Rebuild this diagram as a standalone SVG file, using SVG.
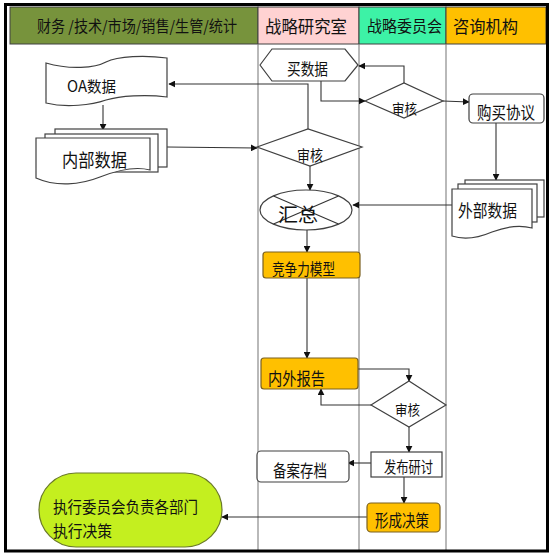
<svg xmlns="http://www.w3.org/2000/svg" width="551" height="559" viewBox="0 0 551 559">
<style>
text{font-family:"Noto Sans CJK SC","Liberation Sans",sans-serif;fill:#111}
.shp{fill:#fff;stroke:#404040;stroke-width:1.2}
.org{fill:#FFC000;stroke:#7a6020;stroke-width:1.2}
.cn{fill:none;stroke:#333;stroke-width:1.1}
.lane{stroke:#8a8a8a;stroke-width:1.2}
.hd{stroke:#404040;stroke-width:1}
</style>
<defs>
<marker id="ah" viewBox="0 0 10 10" refX="9" refY="5" markerWidth="7" markerHeight="7" markerUnits="userSpaceOnUse" orient="auto">
<path d="M0,0 L10,5 L0,10 Z" fill="#111"/>
</marker>
</defs>
<rect x="0" y="0" width="551" height="559" fill="#fff"/>
<g id="header">
<rect class="hd" x="10" y="7" width="248" height="37" fill="#77933C"/>
<rect class="hd" x="258" y="7" width="101" height="37" fill="#FFD2D2"/>
<rect class="hd" x="359" y="7" width="87" height="37" fill="#3DF2A6"/>
<rect class="hd" x="446" y="7" width="100" height="37" fill="#FFC000"/>
<text x="37" y="32" font-size="15.5" textLength="200" lengthAdjust="spacingAndGlyphs">财务 /技术/市场/销售/生管/统计</text>
<text x="265" y="33" font-size="17" textLength="82" lengthAdjust="spacingAndGlyphs">战略研究室</text>
<text x="367" y="32" font-size="15.5" textLength="75" lengthAdjust="spacingAndGlyphs">战略委员会</text>
<text x="453" y="33" font-size="17" textLength="65" lengthAdjust="spacingAndGlyphs">咨询机构</text>
</g>
<g id="lanes">
<line class="lane" x1="258" y1="44" x2="258" y2="550"/>
<line class="lane" x1="359" y1="44" x2="359" y2="550"/>
<line class="lane" x1="446" y1="44" x2="446" y2="550"/>
</g>
<rect x="5.5" y="4.5" width="542" height="546.5" fill="none" stroke="#000" stroke-width="3"/>
<g id="connectors">
<path class="cn" d="M308,129 V84 H169" marker-end="url(#ah)"/>
<path class="cn" d="M103,105 V130" marker-end="url(#ah)"/>
<path class="cn" d="M167,147 L257,148" marker-end="url(#ah)"/>
<path class="cn" d="M321,81 V101 H365" marker-end="url(#ah)"/>
<path class="cn" d="M404,83 V66 H359" marker-end="url(#ah)"/>
<path class="cn" d="M443,101 L469,102" marker-end="url(#ah)"/>
<path class="cn" d="M496,123 V180" marker-end="url(#ah)"/>
<path class="cn" d="M452,205 H353" marker-end="url(#ah)"/>
<path class="cn" d="M310,166 V190" marker-end="url(#ah)"/>
<path class="cn" d="M307,230 V252" marker-end="url(#ah)"/>
<path class="cn" d="M307,278 V358" marker-end="url(#ah)"/>
<path class="cn" d="M358,369 H409 V381" marker-end="url(#ah)"/>
<path class="cn" d="M371,405 H321 V389" marker-end="url(#ah)"/>
<path class="cn" d="M409,427 V452" marker-end="url(#ah)"/>
<path class="cn" d="M371,463 H348" marker-end="url(#ah)"/>
<path class="cn" d="M404,477 V503" marker-end="url(#ah)"/>
<path class="cn" d="M367,517 H222" marker-end="url(#ah)"/>
</g>
<g id="oa">
<path class="shp" d="M46,63 C70,70 95,68 106,62 C118,56 145,55 167,58 V97 C145,94 120,96 106,100 C92,105 66,108 46,103 Z"/>
<text x="67" y="92" font-size="16" font-family="Liberation Serif, serif" textLength="20" lengthAdjust="spacingAndGlyphs">OA</text>
<text x="87" y="92" font-size="15" textLength="29" lengthAdjust="spacingAndGlyphs">数据</text>
</g>
<g id="neibu">
<rect class="shp" x="55" y="129" width="112" height="38"/>
<rect class="shp" x="45" y="134" width="113" height="38"/>
<path class="shp" d="M36,138 H150 V170 C135,166 118,170 100,177 C80,185 56,187 36,178 Z"/>
<text x="62" y="167" font-size="18" textLength="65" lengthAdjust="spacingAndGlyphs">内部数据</text>
</g>
<g id="maishuju">
<path class="shp" d="M260,65 L272,49 H345 L358,65 L345,81 H272 Z"/>
<text x="287" y="75" font-size="16" textLength="41" lengthAdjust="spacingAndGlyphs">买数据</text>
</g>
<g id="shenhe1">
<path class="shp" d="M365,101 L404,83 L443,101 L404,118 Z"/>
<text x="392" y="114" font-size="14" textLength="25" lengthAdjust="spacingAndGlyphs">审核</text>
</g>
<g id="goumai">
<rect class="shp" x="469" y="94" width="75" height="29" rx="4"/>
<text x="477" y="119" font-size="17" textLength="58" lengthAdjust="spacingAndGlyphs">购买协议</text>
</g>
<g id="shenhe2">
<path class="shp" d="M257,147 L308,129 L362,147 L310,166 Z"/>
<text x="297" y="161" font-size="15" textLength="26" lengthAdjust="spacingAndGlyphs">审核</text>
</g>
<g id="waibu">
<rect class="shp" x="465" y="180" width="79" height="37"/>
<rect class="shp" x="458" y="184" width="79" height="38"/>
<path class="shp" d="M452,189 H532 V228 C518,224 505,227 492,232 C478,238 464,240 452,236 Z"/>
<text x="458" y="217" font-size="17" textLength="59" lengthAdjust="spacingAndGlyphs">外部数据</text>
</g>
<g id="huizong">
<ellipse class="shp" cx="306" cy="210" rx="46" ry="20"/>
<line class="cn" x1="273.5" y1="195.9" x2="338.5" y2="224.1"/>
<line class="cn" x1="338.5" y1="195.9" x2="273.5" y2="224.1"/>
<text x="278" y="222" font-size="19" textLength="40" lengthAdjust="spacingAndGlyphs">汇总</text>
</g>
<g id="jingzheng">
<rect class="org" x="263" y="252" width="97" height="26" rx="3"/>
<text x="272" y="275" font-size="15.5" textLength="63" lengthAdjust="spacingAndGlyphs">竞争力模型</text>
</g>
<g id="neiwai">
<rect class="org" x="261" y="358" width="97" height="31" rx="3"/>
<text x="268" y="385" font-size="17" textLength="57" lengthAdjust="spacingAndGlyphs">内外报告</text>
</g>
<g id="shenhe3">
<path class="shp" d="M371,405 L409,381 L446,405 L409,427 Z"/>
<text x="395" y="415" font-size="14" textLength="25" lengthAdjust="spacingAndGlyphs">审核</text>
</g>
<g id="fabu">
<rect class="shp" x="371" y="452" width="71" height="25"/>
<text x="384" y="473" font-size="15.5" textLength="49" lengthAdjust="spacingAndGlyphs">发布研讨</text>
</g>
<g id="beian">
<rect class="shp" x="257" y="451" width="92" height="31" rx="4"/>
<text x="273" y="477" font-size="17" textLength="54" lengthAdjust="spacingAndGlyphs">备案存档</text>
</g>
<g id="xingcheng">
<rect class="org" x="367" y="503" width="73" height="29" rx="4"/>
<text x="375" y="527" font-size="16.5" textLength="54" lengthAdjust="spacingAndGlyphs">形成决策</text>
</g>
<g id="zhixing">
<rect x="39" y="473" width="183" height="74" rx="37" fill="#C4EF1F" stroke="#6b7a2a" stroke-width="1.2"/>
<text x="53" y="513" font-size="16" textLength="145" lengthAdjust="spacingAndGlyphs">执行委员会负责各部门</text>
<text x="53" y="537" font-size="16" textLength="59" lengthAdjust="spacingAndGlyphs">执行决策</text>
</g>
</svg>
